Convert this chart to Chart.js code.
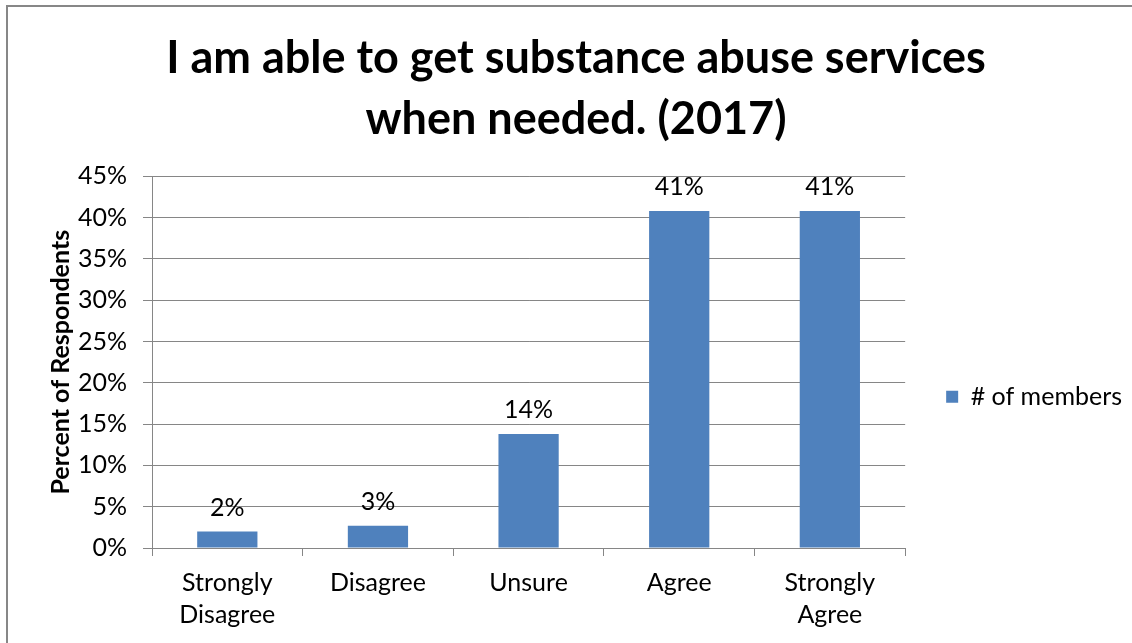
<!DOCTYPE html>
<html>
<head>
<meta charset="utf-8">
<title>Substance abuse services 2017</title>
<script src="https://cdn.jsdelivr.net/npm/chart.js@4.4.1/dist/chart.umd.min.js"></script>
<style>
  html, body { margin: 0; padding: 0; background: #ffffff; overflow: hidden; }
  #wrap { position: relative; width: 1132px; height: 643px; }
  #frame {
    position: absolute; left: 6px; top: 5px; width: 1140px; height: 660px;
    border: 2px solid #878787; box-sizing: border-box; pointer-events: none;
  }
  canvas { position: absolute; left: 0; top: 0; }
</style>
</head>
<body>
<div id="wrap">
  <canvas id="chart" width="1132" height="643"></canvas>
  <div id="frame"></div>
</div>
<script>
// survey answers, share of members (percent)
const categories = [['Strongly', 'Disagree'], 'Disagree', 'Unsure', 'Agree', ['Strongly', 'Agree']]
const percentValues = [2.0, 2.7, 13.8, 40.8, 40.8]
const yTicks = [0, 5, 10, 15, 20, 25, 30, 35, 40, 45]
const seriesName = '# of members'

const FONT = "Lato, 'Open Sans', 'DejaVu Sans', sans-serif"
const BAR_BLUE = '#4F81BD'
const GRID_GREY = '#868686'

// writes the rounded percentage above every bar
const barValueLabels = {
  id: 'barValueLabels',
  afterDatasetsDraw(chart) {
    const ctx = chart.ctx
    const meta = chart.getDatasetMeta(0)
    ctx.save()
    ctx.font = '25px ' + FONT
    ctx.fillStyle = '#000000'
    ctx.textAlign = 'center'
    ctx.textBaseline = 'middle'
    meta.data.forEach((bar, i) => {
      const v = chart.data.datasets[0].data[i]
      ctx.fillText(Math.round(v) + '%', bar.x, bar.y - 24)
    })
    ctx.restore()
  }
}

// centre the legend in the space between the title text and the bottom edge
const legendBelowTitle = {
  id: 'legendBelowTitle',
  afterLayout(chart) {
    if (chart.legend && chart.titleBlock) {
      const titlePad = chart.options.plugins.title.padding.bottom
      chart.legend.top = chart.titleBlock.bottom - titlePad
      chart.legend.bottom = chart.height
    }
  }
}

var ctx = document.getElementById('chart').getContext('2d')
var chart = new Chart(ctx, {
  type: 'bar',
  plugins: [barValueLabels, legendBelowTitle],
  data: {
    labels: categories,
    datasets: [{
      label: seriesName,
      data: percentValues,
      backgroundColor: BAR_BLUE,
      borderWidth: 0,
      barPercentage: 0.4,
      categoryPercentage: 1.0
    }]
  },
  options: {
    responsive: false,
    animation: false,
    devicePixelRatio: 1,
    layout: {
      padding: { left: 20, right: 0, top: 0, bottom: 1 }
    },
    plugins: {
      tooltip: { enabled: false },
      title: {
        display: true,
        text: ['I am able to get substance abuse services', 'when needed. (2017)'],
        color: '#000000',
        font: { family: FONT, size: 45, weight: 'bold', lineHeight: 1.36 },
        padding: { top: 28, bottom: 26 }
      },
      legend: {
        display: true,
        position: 'right',
        labels: {
          color: '#000000',
          boxWidth: 12,
          boxHeight: 12,
          padding: 41,
          font: { family: FONT, size: 25 }
        }
      }
    },
    scales: {
      x: {
        grid: {
          display: true,
          drawOnChartArea: false,
          drawTicks: true,
          tickLength: 8,
          offset: true,
          color: GRID_GREY
        },
        border: { display: true, color: GRID_GREY, width: 1 },
        ticks: {
          color: '#000000',
          padding: 11,
          maxRotation: 0,
          font: { family: FONT, size: 25, lineHeight: 1.28 }
        }
      },
      y: {
        min: 0,
        max: 45,
        afterBuildTicks(scale) {
          scale.ticks = yTicks.map(v => ({ value: v }))
        },
        afterFit(scale) {
          scale.width = 132
        },
        grid: {
          color: GRID_GREY,
          tickLength: 9,
          drawTicks: true
        },
        border: { display: true, color: GRID_GREY, width: 1 },
        ticks: {
          color: '#000000',
          padding: 16,
          font: { family: FONT, size: 25 },
          callback: (v) => v + '%'
        },
        title: {
          display: true,
          text: 'Percent of Respondents',
          color: '#000000',
          font: { family: FONT, size: 25, weight: 'bold' },
          padding: { top: 26, bottom: 8 }
        }
      }
    }
  }
})
</script>
</body>
</html>
